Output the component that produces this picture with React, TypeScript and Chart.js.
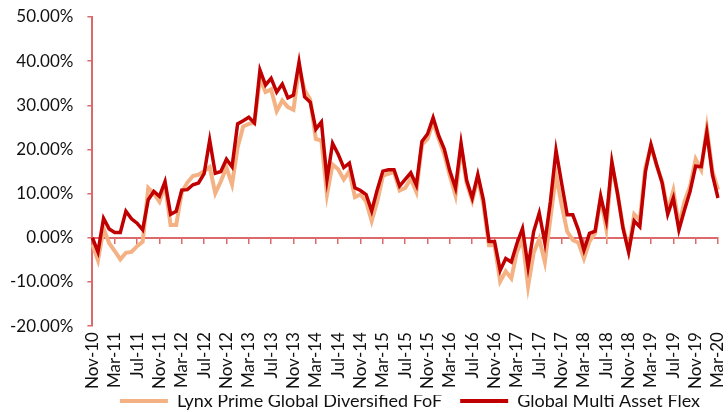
import React, { useEffect, useRef } from 'react';
import { Chart, registerables } from 'chart.js';

Chart.register(...registerables);

const MONTH_NAMES = ['Jan', 'Feb', 'Mar', 'Apr', 'May', 'Jun', 'Jul', 'Aug', 'Sep', 'Oct', 'Nov', 'Dec'];
const START_YEAR = 2010;
const START_MONTH = 10; // Nov
const N_MONTHS = 113; // Nov-10 .. Mar-20

const categories: string[] = Array.from({ length: N_MONTHS }, (_, i) => {
  const m = (START_MONTH + i) % 12;
  const y = START_YEAR + Math.floor((START_MONTH + i) / 12);
  return `${MONTH_NAMES[m]}-${String(y % 100).padStart(2, '0')}`;
});

const tickLabels = [
  'Nov-10', 'Mar-11', 'Jul-11', 'Nov-11', 'Mar-12', 'Jul-12', 'Nov-12', 'Mar-13', 'Jul-13', 'Nov-13',
  'Mar-14', 'Jul-14', 'Nov-14', 'Mar-15', 'Jul-15', 'Nov-15', 'Mar-16', 'Jul-16', 'Nov-16', 'Mar-17',
  'Jul-17', 'Nov-17', 'Mar-18', 'Jul-18', 'Nov-18', 'Mar-19', 'Jul-19', 'Nov-19', 'Mar-20',
];

const lynxPrime = [
  -1.5, -5.1, 2.1, -1.2, -3.0, -4.9, -3.4, -3.2, -1.9, -0.9,
  11.3, 10.0, 8.2, 12.0, 2.9, 2.9, 10.3, 12.5, 14.0, 14.3,
  15.1, 16.0, 10.1, 12.8, 15.9, 12.1, 20.5, 25.2, 25.8, 26.0,
  36.0, 33.0, 33.6, 28.7, 31.1, 29.6, 29.0, 38.5, 33.4, 31.3,
  22.4, 22.0, 9.8, 16.6, 15.5, 13.2, 15.1, 9.2, 9.8, 8.2,
  3.8, 8.2, 14.0, 14.5, 14.9, 10.7, 11.3, 13.4, 10.4, 21.1,
  22.4, 26.2, 22.4, 18.9, 14.0, 9.6, 20.4, 12.4, 8.4, 13.5,
  7.5, -1.7, -1.7, -9.9, -7.6, -9.2, -3.2, -0.3, -11.0, -3.4,
  -0.3, -5.5, 4.4, 14.3, 7.5, 1.4, -0.5, -1.1, -4.7, -0.8,
  1.0, 9.0, 2.1, 16.6, 10.1, 2.5, -2.9, 5.3, 4.0, 15.9,
  20.8, 16.4, 12.8, 6.1, 10.7, 2.9, 8.2, 11.7, 17.8, 15.4,
  24.8, 15.1, 10.9,
];

const globalMultiAssetFlex = [
  0.0, -3.2, 4.4, 2.0, 1.2, 1.2, 6.0, 4.3, 3.3, 1.8,
  8.6, 10.5, 9.4, 12.7, 5.3, 6.0, 10.8, 10.9, 12.0, 12.4,
  14.5, 22.1, 14.6, 15.0, 17.8, 16.1, 25.8, 26.5, 27.3, 26.0,
  38.0, 34.6, 36.1, 33.0, 34.8, 31.7, 32.3, 39.8, 31.9, 30.7,
  24.6, 26.2, 13.2, 21.4, 18.9, 15.9, 16.9, 11.3, 10.7, 9.8,
  6.1, 10.9, 15.1, 15.4, 15.4, 11.7, 13.2, 14.7, 11.9, 21.8,
  23.5, 27.2, 23.1, 20.1, 15.1, 11.3, 21.4, 13.0, 9.0, 14.3,
  8.6, -0.8, -0.9, -7.4, -4.7, -5.5, -1.3, 2.1, -6.6, 1.4,
  5.6, -1.1, 8.2, 19.8, 12.4, 5.2, 5.2, 1.8, -2.8, 1.0,
  1.5, 9.4, 4.0, 17.2, 10.1, 2.1, -3.2, 3.8, 2.5, 14.9,
  21.1, 16.6, 12.4, 5.3, 9.0, 1.8, 6.3, 10.5, 16.2, 16.1,
  23.9, 14.3, 9.0,
];

const seriesNames = ['Lynx Prime Global Diversified FoF', 'Global Multi Asset Flex'];

const AXIS_COLOR = '#dc6a6a';
const TEXT_COLOR = '#111111';
const FONT_FAMILY = 'Lato, "Open Sans", sans-serif';

const zeroSidePadding = (scale: any) => {
  scale.paddingLeft = 0;
  scale.paddingRight = 0;
};

export default function App() {
  const canvasRef = useRef<HTMLCanvasElement | null>(null);

  useEffect(() => {
    document.body.style.margin = '0';
    const canvas = canvasRef.current;
    if (!canvas) return;
    const chart = new Chart(canvas, {
      type: 'line',
      data: {
        labels: categories,
        datasets: [
          {
            label: seriesNames[0],
            data: lynxPrime,
            borderColor: '#f4b183',
            backgroundColor: '#f4b183',
            borderWidth: 4,
            pointRadius: 0,
            tension: 0,
            order: 1,
          },
          {
            label: seriesNames[1],
            data: globalMultiAssetFlex,
            borderColor: '#c00000',
            backgroundColor: '#c00000',
            borderWidth: 3.5,
            pointRadius: 0,
            tension: 0,
            order: 0,
          },
        ],
      },
      options: {
        animation: false,
        responsive: false,
        maintainAspectRatio: false,
        layout: { padding: { left: -4, right: 10, top: 17, bottom: -8 } },
        scales: {
          x: {
            type: 'category',
            offset: false,
            grid: { display: false, drawTicks: false },
            border: { display: false },
            afterFit: zeroSidePadding,
            ticks: {
              autoSkip: false,
              minRotation: 90,
              maxRotation: 90,
              padding: 6,
              color: TEXT_COLOR,
              font: { family: FONT_FAMILY, size: 17 },
              callback: (_v: any, index: number) =>
                tickLabels.includes(categories[index]) ? categories[index] : '',
            },
          },
          xZero: {
            type: 'category',
            axis: 'x',
            position: { y: 0 } as any,
            offset: false,
            afterFit: zeroSidePadding,
            ticks: { display: false, autoSkip: false },
            grid: {
              display: true,
              drawOnChartArea: false,
              drawTicks: true,
              tickLength: 5,
              lineWidth: 1.5,
              color: (ctx: any) =>
                tickLabels.includes(categories[ctx.index]) ? AXIS_COLOR : 'rgba(0,0,0,0)',
            },
            border: { display: true, color: AXIS_COLOR, width: 2 },
          },
          y: {
            min: -20,
            max: 50,
            afterFit: (scale: any) => {
              scale.paddingTop = 0;
              scale.paddingBottom = 0;
            },
            ticks: {
              stepSize: 10,
              padding: 14,
              color: TEXT_COLOR,
              font: { family: FONT_FAMILY, size: 17 },
              callback: (v: any) => `${Number(v).toFixed(2)}%`,
            },
            grid: {
              drawOnChartArea: false,
              drawTicks: true,
              tickLength: 5,
              color: AXIS_COLOR,
              lineWidth: 1.5,
            },
            border: { display: true, color: AXIS_COLOR, width: 2 },
          },
        },
        plugins: {
          tooltip: { enabled: false },
          legend: {
            position: 'bottom',
            align: 'end',
            title: {
              display: true,
              text: '',
              font: { size: 1, lineHeight: 1 },
              padding: { top: -22, bottom: 0 },
            },
            labels: {
              boxWidth: 48,
              boxHeight: 4,
              padding: 18,
              color: TEXT_COLOR,
              font: { family: FONT_FAMILY, size: 18 },
              sort: (a: any, b: any) => a.datasetIndex - b.datasetIndex,
              generateLabels: (ch: any) =>
                Chart.defaults.plugins.legend.labels.generateLabels(ch).map((item: any) => ({
                  ...item,
                  fillStyle: item.strokeStyle,
                  lineWidth: 0,
                })),
            },
          },
        },
      } as any,
    });
    return () => chart.destroy();
  }, []);

  return (
    <div style={{ width: 728, height: 412, position: 'relative' }}>
      <canvas ref={canvasRef} width={728} height={412} style={{ width: 728, height: 412, display: 'block' }} />
    </div>
  );
}
